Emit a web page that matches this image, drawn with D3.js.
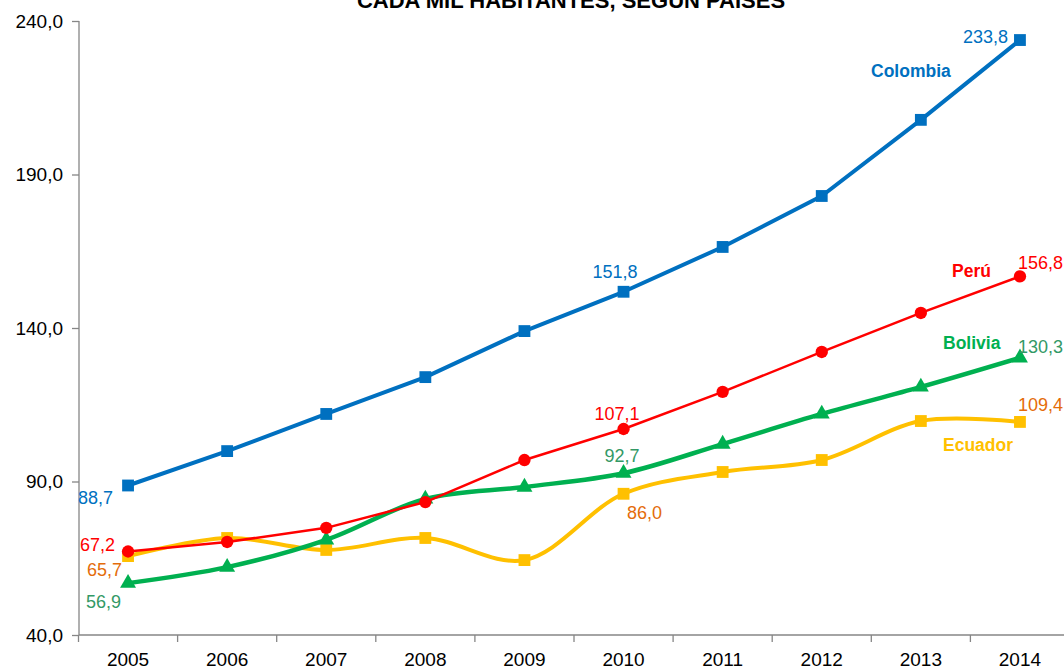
<!DOCTYPE html>
<html>
<head>
  <meta charset="utf-8">
  <title>Chart</title>
  <style>
    body { margin: 0; background: #fff; }
    svg text { font-family: "Liberation Sans", Arial, sans-serif; }
  </style>
</head>
<body>
<script src="https://cdnjs.cloudflare.com/ajax/libs/d3/7.8.5/d3.min.js"></script>
<script>
var w = 1064, h = 669;

var years = ["2005", "2006", "2007", "2008", "2009", "2010", "2011", "2012", "2013", "2014"];
var colombia = [88.7, 99.9, 112.0, 124.0, 139.0, 151.8, 166.4, 183.0, 207.8, 233.8];
var peru     = [67.2, 70.3, 74.9, 83.3, 97.0, 107.1, 119.2, 132.2, 144.9, 156.8];
var bolivia  = [56.9, 62.1, 71.0, 84.3, 88.2, 92.7, 102.2, 112.0, 120.8, 130.3];
var ecuador  = [65.7, 71.6, 67.7, 71.6, 64.4, 86.0, 93.1, 97.0, 109.7, 109.4];
var yTicks = [40, 90, 140, 190, 240];

var fmt = function(v) { return v.toFixed(1).replace(".", ","); };

var svg = d3.select("body").append("svg")
  .attr("width", w)
  .attr("height", h);

var x = d3.scaleBand().domain(years).range([78.5, 1069.5]);
var y = d3.scaleLinear().domain([40, 240]).range([635, 21]);
var cx = function(d, i) { return x(years[i]) + x.bandwidth() / 2; };

// title (partly cut at the top, as in the original)
svg.append("text")
  .attr("x", 571).attr("y", 8)
  .attr("text-anchor", "middle")
  .attr("font-size", 22).attr("font-weight", "bold")
  .attr("fill", "#000")
  .text("CADA MIL HABITANTES, SEGÚN PAÍSES");

// y axis
var yAxis = svg.append("g")
  .attr("transform", "translate(79,0)")
  .call(d3.axisLeft(y).tickValues(yTicks).tickSize(7).tickPadding(9).tickFormat(fmt));
yAxis.select(".domain").attr("stroke", "#868686").attr("stroke-width", 1.3)
  .attr("d", "M0," + y(240) + "V" + y(40));
yAxis.selectAll(".tick line").attr("stroke", "#868686").attr("stroke-width", 1.3);
yAxis.selectAll(".tick text").attr("font-size", 19).attr("fill", "#000")
  .style("font-family", "Liberation Sans, Arial, sans-serif");

// x axis with ticks at category boundaries
var xAxis = svg.append("g").attr("transform", "translate(0,635)");
xAxis.append("line")
  .attr("x1", 79).attr("x2", w).attr("y1", 0).attr("y2", 0)
  .attr("stroke", "#868686").attr("stroke-width", 1.3);
xAxis.selectAll("line.tk")
  .data(years)
  .enter().append("line").attr("class", "tk")
  .attr("x1", function(d) { return x(d); }).attr("x2", function(d) { return x(d); })
  .attr("y1", 0).attr("y2", 7)
  .attr("stroke", "#868686").attr("stroke-width", 1.3);
xAxis.selectAll("text")
  .data(years)
  .enter().append("text")
  .attr("x", function(d) { return x(d) + x.bandwidth() / 2; })
  .attr("y", 31)
  .attr("text-anchor", "middle")
  .attr("font-size", 19).attr("fill", "#000")
  .text(function(d) { return d; });

var series = [
  { name: "Ecuador", values: ecuador, color: "#FFC000", width: 4, curve: d3.curveCatmullRom, marker: "square" },
  { name: "Bolivia", values: bolivia, color: "#00B050", width: 4.5, curve: d3.curveCatmullRom, marker: "triangle" },
  { name: "Perú", values: peru, color: "#FF0000", width: 2.5, curve: d3.curveLinear, marker: "circle" },
  { name: "Colombia", values: colombia, color: "#0070C0", width: 4, curve: d3.curveLinear, marker: "square" }
];

series.forEach(function(s) {
  var line = d3.line()
    .x(function(d, i) { return cx(d, i); })
    .y(function(d) { return y(d); })
    .curve(s.curve);
  svg.append("path")
    .datum(s.values)
    .attr("d", line)
    .attr("fill", "none")
    .attr("stroke", s.color)
    .attr("stroke-width", s.width)
    .attr("stroke-linejoin", "round");

  var symType = s.marker === "square" ? d3.symbolSquare :
                s.marker === "triangle" ? d3.symbolTriangle : d3.symbolCircle;
  var size = s.marker === "square" ? 140 : s.marker === "triangle" ? 110 : 120;
  svg.selectAll(null)
    .data(s.values)
    .enter().append("path")
    .attr("d", d3.symbol().type(symType).size(size))
    .attr("transform", function(d, i) { return "translate(" + cx(d, i) + "," + y(d) + ")"; })
    .attr("fill", s.color);
});

// value labels
var valueLabels = [
  { v: colombia[0], xp: 113, yp: 504, anchor: "end", color: "#0070C0" },
  { v: colombia[5], xp: 615, yp: 278, anchor: "middle", color: "#0070C0" },
  { v: colombia[9], xp: 1008, yp: 43, anchor: "end", color: "#0070C0" },
  { v: peru[0], xp: 115, yp: 551, anchor: "end", color: "#FF0000" },
  { v: peru[5], xp: 617, yp: 420, anchor: "middle", color: "#FF0000" },
  { v: peru[9], xp: 1018, yp: 269, anchor: "start", color: "#FF0000" },
  { v: bolivia[0], xp: 121, yp: 608, anchor: "end", color: "#339966" },
  { v: bolivia[5], xp: 622, yp: 462, anchor: "middle", color: "#339966" },
  { v: bolivia[9], xp: 1018, yp: 353, anchor: "start", color: "#339966" },
  { v: ecuador[0], xp: 122, yp: 576, anchor: "end", color: "#E46C0A" },
  { v: ecuador[5], xp: 627, yp: 519, anchor: "start", color: "#E46C0A" },
  { v: ecuador[9], xp: 1018, yp: 411, anchor: "start", color: "#E46C0A" }
];
svg.selectAll("text.val")
  .data(valueLabels)
  .enter().append("text").attr("class", "val")
  .attr("x", function(d) { return d.xp; })
  .attr("y", function(d) { return d.yp; })
  .attr("text-anchor", function(d) { return d.anchor; })
  .attr("font-size", 18)
  .attr("fill", function(d) { return d.color; })
  .text(function(d) { return fmt(d.v); });

// series name labels
var nameLabels = [
  { t: "Colombia", xp: 871, yp: 77, color: "#0070C0" },
  { t: "Perú", xp: 952, yp: 277, color: "#FF0000" },
  { t: "Bolivia", xp: 943, yp: 349, color: "#00B050" },
  { t: "Ecuador", xp: 943, yp: 451, color: "#FFC000" }
];
svg.selectAll("text.name")
  .data(nameLabels)
  .enter().append("text").attr("class", "name")
  .attr("x", function(d) { return d.xp; })
  .attr("y", function(d) { return d.yp; })
  .attr("font-size", 17.5).attr("font-weight", "bold")
  .attr("fill", function(d) { return d.color; })
  .text(function(d) { return d.t; });
</script>
</body>
</html>
